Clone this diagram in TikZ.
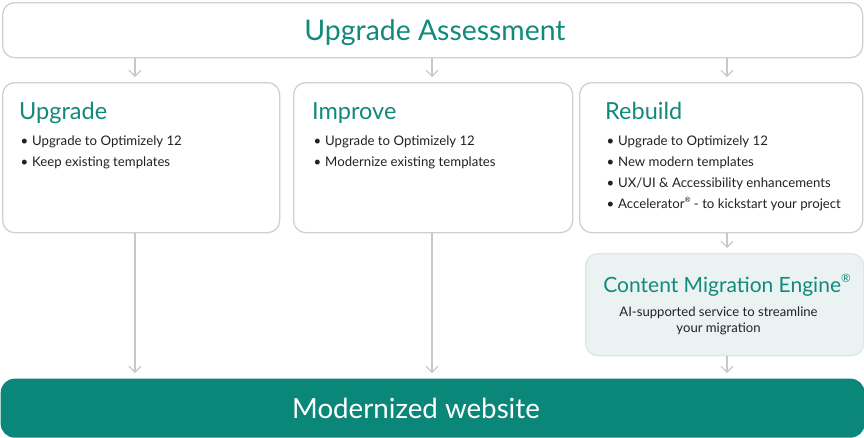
\documentclass[tikz,border=0pt]{standalone}
\usepackage{fontspec}
\setmainfont{Lato}
\usetikzlibrary{arrows.meta}
\definecolor{tealtext}{HTML}{12897C}
\definecolor{bordgray}{HTML}{D0D0D0}
\definecolor{arrgray}{HTML}{C8C8C8}
\definecolor{cmefill}{HTML}{EAF3F2}
\definecolor{cmebord}{HTML}{DCE7E5}
\definecolor{botfill}{HTML}{0B877A}
\definecolor{bodytext}{HTML}{222222}
\newcommand\bulmark{\makebox[13pt][l]{\hspace{1.5pt}•}}
\newcommand\regmark{\raisebox{0.45em}{\scalebox{0.55}{®}}}
\begin{document}
\begin{tikzpicture}[x=1pt,y=-1pt,
  box/.style={draw=bordgray, line width=1.3pt, rounded corners=12pt, fill=white, inner sep=0pt, anchor=north west},
  head/.style={text=tealtext, font=\fontsize{23.5}{28}\selectfont, anchor=base west, inner sep=0pt},
  item/.style={text=bodytext, font=\fontsize{13.2}{16}\selectfont, anchor=base west, inner sep=0pt},
  conn/.style={draw=arrgray, line width=1.2pt, -{Straight Barb[length=6pt,width=12pt,line width=1.2pt]}, shorten >=5pt}]
\useasboundingbox (0,0) rectangle (864,437);
% boxes
\node[box, minimum width=860pt, minimum height=55pt] (assess) at (2,2) {};
\node[text=tealtext, font=\fontsize{28.4}{32}\selectfont, anchor=base, inner sep=0pt] (assesst) at (435,40) {Upgrade Assessment};
\node[box, minimum width=277pt, minimum height=150pt] (upg) at (2,82) {};
\node[box, minimum width=279pt, minimum height=150pt] (imp) at (293,82) {};
\node[box, minimum width=283pt, minimum height=150pt] (reb) at (579,82) {};
\node[box, draw=cmebord, fill=cmefill, minimum width=278pt, minimum height=102pt] (cme) at (585,253) {};
\node[box, draw=none, fill=botfill, rounded corners=14pt, minimum width=864pt, minimum height=59pt] (modern) at (0,378) {};
\node[text=white, font=\fontsize{27.7}{32}\selectfont, anchor=base, inner sep=0pt] (modernt) at (416,418) {Modernized website};
% coordinates for arrow columns
\coordinate (ca) at (135,0);
\coordinate (cb) at (432,0);
\coordinate (cc) at (727,0);
% Upgrade
\node[head] (upgh) at (19,119) {Upgrade};
\node[item] (u1) at (19,145.5) {\bulmark Upgrade to Optimizely 12};
\node[item] (u2) at (19,166.5) {\bulmark Keep existing templates};
% Improve
\node[head] (imph) at (312,119) {Improve};
\node[item] (i1) at (312,145.5) {\bulmark Upgrade to Optimizely 12};
\node[item] (i2) at (312,166.5) {\bulmark Modernize existing templates};
% Rebuild
\node[head] (rebh) at (605,119) {Rebuild};
\node[item] (r1) at (605,145.5) {\bulmark Upgrade to Optimizely 12};
\node[item] (r2) at (605,166.5) {\bulmark New modern templates};
\node[item] (r3) at (605,187.5) {\bulmark UX/UI \& Accessibility enhancements};
\node[item] (r4) at (605,208.5) {\bulmark Accelerator\regmark{} - to kickstart your project};
% CME
\node[text=tealtext, font=\fontsize{21}{25}\selectfont, anchor=base, inner sep=0pt] (cmeh) at (727,292) {Content Migration Engine\regmark};
\node[text=bodytext, font=\fontsize{13.1}{16}\selectfont, anchor=base, inner sep=0pt] (cme1) at (718.5,316) {AI-supported service to streamline};
\node[text=bodytext, font=\fontsize{13.1}{16}\selectfont, anchor=base, inner sep=0pt] (cme2) at (718.5,332) {your migration};
% connectors
\draw[conn] (assess.south -| ca) -- (upg.north -| ca);
\draw[conn] (assess.south -| cb) -- (imp.north -| cb);
\draw[conn] (assess.south -| cc) -- (reb.north -| cc);
\draw[conn] (upg.south -| ca) -- (modern.north -| ca);
\draw[conn] (imp.south -| cb) -- (modern.north -| cb);
\draw[conn] (reb.south -| cc) -- (cme.north -| cc);
\draw[conn] (cme.south -| cc) -- (modern.north -| cc);
\end{tikzpicture}
\end{document}
